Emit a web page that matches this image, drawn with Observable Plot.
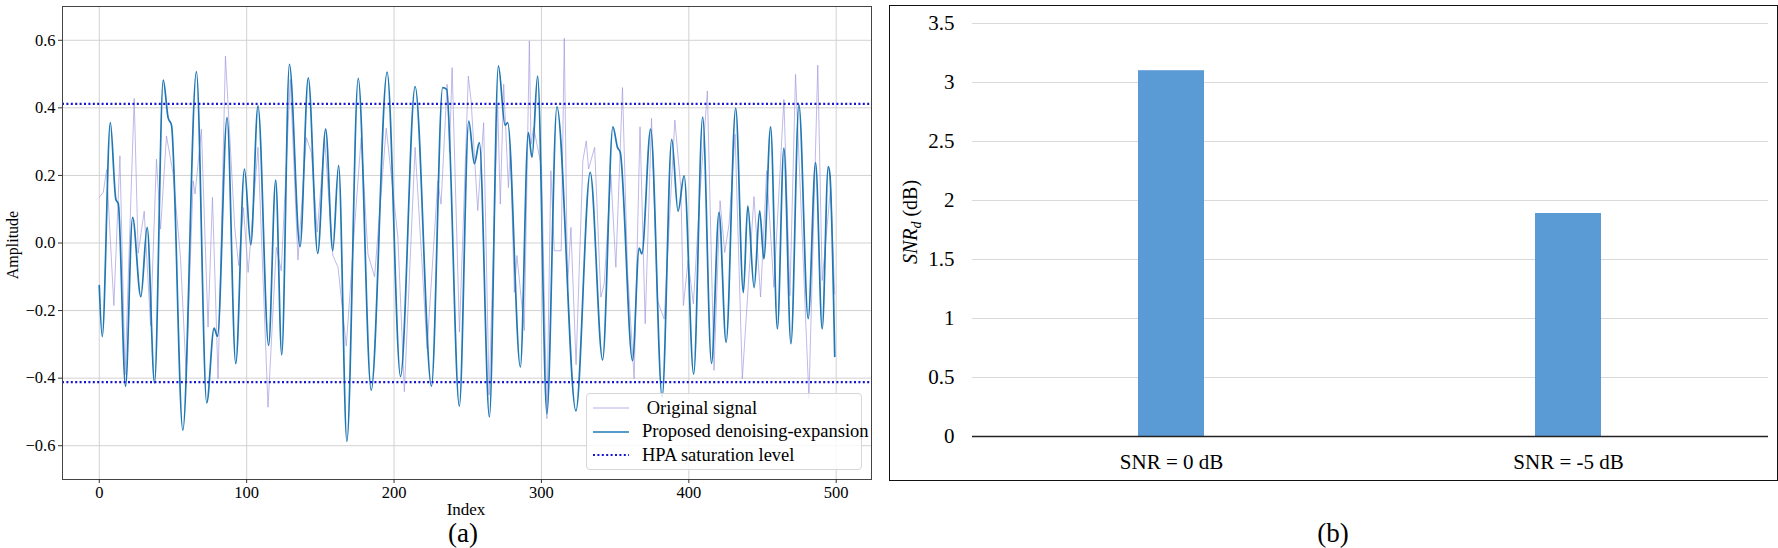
<!DOCTYPE html>
<html>
<head>
<meta charset="utf-8">
<script src="https://cdn.jsdelivr.net/npm/d3@7"></script>
<script src="https://cdn.jsdelivr.net/npm/@observablehq/plot@0.6"></script>
<style>
  html, body { margin: 0; padding: 0; background: #fff; }
  #page { position: relative; width: 1778px; height: 548px; overflow: hidden; background: #fff;
          font-family: "Liberation Serif", "Times New Roman", serif; color: #000; }
  #left { position: absolute; left: 0; top: 0; }
  #right { position: absolute; left: 890px; top: 6px; }
  #rightBorder { position: absolute; left: 889px; top: 5px; width: 889px; height: 476px;
                 box-sizing: border-box; border: 1.4px solid #111; pointer-events: none; }
  #legend { position: absolute; left: 586px; top: 393px; width: 276px; height: 77px; box-sizing: border-box;
            background: rgba(255,255,255,0.82); border: 1px solid #d6d6d6; border-radius: 4px;
            font-size: 18.5px; line-height: 1; }
  .row { position: absolute; left: 6px; height: 20px; display: flex; align-items: center; white-space: pre; }
  .row svg { width: 36px; height: 10px; margin-right: 13px; }
  .lbl { position: absolute; line-height: 1; white-space: nowrap; }
  .cap { font-size: 27px; transform: translate(-50%, -50%); }
  #xlabelA { left: 466px; top: 508.5px; font-size: 17px; transform: translate(-50%, -50%); }
  #ylabelA { left: 12.5px; top: 245px; font-size: 16px; transform: translate(-50%, -50%) rotate(-90deg); }
  #ytitle { left: 912px; top: 222px; font-size: 20px; transform: translate(-50%, -50%) rotate(-90deg); }
  #ytitle sub { font-size: 14px; vertical-align: -4px; }
</style>
</head>
<body>
<div id="page">
  <div id="left"></div>
  <div id="legend"></div>
  <div class="lbl" id="xlabelA">Index</div>
  <div class="lbl" id="ylabelA">Amplitude</div>
  <div class="lbl cap" style="left:463px; top:533px;">(a)</div>
  <div id="right"></div>
  <div id="rightBorder"></div>
  <div class="lbl" id="ytitle"><i>SNR<sub>d</sub></i> (dB)</div>
  <div class="lbl cap" style="left:1333px; top:533px;">(b)</div>
</div>
<script>
// ---------- Panel (a): time-domain signals ----------
const denoisedIndex = [
  0, 2, 7.5, 11.3, 12.9, 17.8, 22.6, 28.2, 32.5, 37.5,
  43.4, 46.7, 49, 56.7, 65.9, 72.9, 77.9, 80.2, 86.7, 92.6,
  98.5, 102.8, 107.7, 114.9, 119.7, 123.8, 129, 136.2, 141.8, 148.2,
  153.6, 158.4, 162.4, 168, 175.7, 184.5, 195.3, 204.4, 214.3, 225.4,
  233, 235.7, 244.3, 250.7, 254.5, 257.9, 264.7, 270.8, 275.3, 277.1,
  285.7, 291.1, 293.6, 297.4, 303.7, 310.5, 323.4, 333.1, 341.5, 348.5,
  351.6, 353.5, 361.8, 366.3, 368.1, 374.1, 381.9, 388.4, 392.7, 396.8,
  403.3, 409.4, 415.4, 420.5, 425.3, 431.8, 437, 440, 444.3, 448.1,
  450.9, 455.5, 460.1, 464.5, 469.3, 474.7, 481, 486, 490.5, 494.6,
  495.7, 499
];
const denoisedAmp = [
  -0.126, -0.277, 0.356, 0.128, 0.117, -0.424, 0.076, -0.159, 0.046, -0.414,
  0.482, 0.371, 0.349, -0.554, 0.507, -0.473, -0.252, -0.276, 0.371, -0.357,
  0.219, -0.005, 0.406, -0.303, 0.186, -0.331, 0.529, -0.011, 0.489, -0.031,
  0.337, -0.023, 0.230, -0.587, 0.487, -0.436, 0.506, -0.395, 0.463, -0.424,
  0.460, 0.455, -0.483, 0.361, 0.235, 0.297, -0.515, 0.524, 0.349, 0.356,
  -0.367, 0.327, 0.253, 0.494, -0.505, 0.403, -0.497, 0.209, -0.346, 0.344,
  0.283, 0.268, -0.348, -0.015, -0.032, 0.337, -0.456, 0.307, 0.094, 0.199,
  -0.388, 0.373, -0.356, 0.091, -0.294, 0.399, -0.147, 0.110, -0.132, 0.095,
  -0.047, 0.344, -0.254, 0.281, -0.298, 0.409, -0.224, 0.238, -0.254, 0.226,
  0.204, -0.336
];
const originalIndex = [
  0, 2.7, 5, 9.9, 14, 17.5, 23.7, 26.4, 30.5, 34.8,
  38.8, 41.6, 45.6, 50.1, 55.1, 59, 63.7, 65, 69.3, 73.8,
  76.8, 80.6, 85.6, 91.9, 94.6, 97.8, 101, 107.7, 114.5, 120.1,
  123.5, 129.6, 134.8, 140.5, 143.9, 147.9, 152.9, 158.5, 162, 167.6,
  173.2, 177.7, 182.3, 186.8, 194.7, 202.6, 207, 214.3, 222.4, 229.7,
  231.9, 236, 237.6, 239.4, 244.4, 250.4, 252.3, 256.8, 260.8, 264.5,
  270.3, 272.1, 274.4, 276, 277.6, 278.9, 281.6, 283.4, 288.4, 291.8,
  292.9, 294.7, 297.4, 300.1, 303.7, 306.4, 308.7, 313.4, 315.5, 317.7,
  320, 323.5, 328.1, 330.4, 332, 336.1, 340.3, 342.6, 347.1, 350.5,
  355, 358.4, 362.9, 366.9, 370.4, 374.7, 378.7, 383.3, 390.5, 394.6,
  396.3, 399.5, 403.1, 407.6, 412.6, 417.1, 421.2, 424.4, 427.3, 431.4,
  436.3, 444.2, 448.7, 452.8, 457.7, 464.5, 468.6, 472.4, 481.5, 487.5,
  490.5, 496.2, 499
];
const originalAmp = [
  0.135, 0.150, 0.217, -0.185, 0.258, -0.390, 0.428, -0.030, 0.094, -0.244,
  0.248, 0.041, 0.317, 0.204, -0.042, -0.392, 0.184, 0.145, 0.337, -0.249,
  0.135, -0.402, 0.553, 0.046, -0.067, 0.105, -0.087, 0.283, -0.486, -0.013,
  -0.082, 0.484, -0.050, 0.312, 0.268, 0.032, 0.307, -0.037, -0.072, -0.305,
  0.046, 0.312, -0.033, -0.100, 0.340, 0.017, -0.440, 0.283, -0.313, 0.184,
  0.115, 0.470, 0.268, 0.519, -0.264, 0.494, 0.420, 0.096, 0.356, -0.450,
  0.410, 0.115, 0.470, 0.317, 0.164, 0.283, -0.146, -0.037, -0.259, 0.598,
  0.292, 0.342, 0.283, 0.224, -0.520, 0.214, -0.023, -0.023, 0.606, -0.131,
  0.046, -0.360, 0.243, 0.302, 0.219, 0.283, -0.160, -0.121, 0.204, -0.072,
  0.460, -0.082, -0.402, 0.344, -0.239, 0.369, -0.170, -0.225, 0.364, 0.164,
  -0.185, -0.052, -0.180, 0.150, 0.450, -0.377, 0.125, -0.028, 0.056, 0.322,
  -0.402, 0.137, -0.160, 0.214, -0.131, 0.425, -0.156, 0.499, -0.460, 0.526,
  -0.111, 0.164, -0.151
];
const hpaLevels = [0.412, -0.412];
const xTicksA = [0, 100, 200, 300, 400, 500];
const yTicksA = [-0.6, -0.4, -0.2, 0, 0.2, 0.4, 0.6];
const legendLabels = [" Original signal", "Proposed denoising-expansion", "HPA saturation level"];

// ---------- Panel (b): SNR gain bars ----------
const categories = ["SNR = 0 dB", "SNR = -5 dB"];
const snrGain = [3.1, 1.89];
const yTicksB = [0, 0.5, 1, 1.5, 2, 2.5, 3, 3.5];

// Colours
const cOriginal = "#9f96dc";
const cDenoised = "#1f77b4";
const cHpa = "#1414d2";
const cBar = "#5b9bd5";

const denoised = denoisedIndex.map((x, i) => ({x, y: denoisedAmp[i]}));
const original = originalIndex.map((x, i) => ({x, y: originalAmp[i]}));
const fmtA = d => (d === 0 ? "0.0" : d.toFixed(1).replace("-", "\u2212"));

const left = Plot.plot({
  width: 880, height: 500,
  marginLeft: 62, marginRight: 9, marginTop: 6, marginBottom: 21,
  style: {fontFamily: "'Liberation Serif', 'Times New Roman', serif", fontSize: "16.5px", color: "#000", background: "transparent", overflow: "visible"},
  x: {domain: [-24.95, 523.95]},
  y: {domain: [-0.7, 0.7]},
  marks: [
    Plot.gridX(xTicksA, {stroke: "#d2d2d2", strokeOpacity: 1, strokeWidth: 1}),
    Plot.gridY(yTicksA, {stroke: "#d2d2d2", strokeOpacity: 1, strokeWidth: 1}),
    Plot.line(original, {x: "x", y: "y", stroke: cOriginal, strokeWidth: 0.9, strokeOpacity: 0.75}),
    Plot.line(denoised, {x: "x", y: "y", stroke: cDenoised, strokeWidth: 1.7, curve: "monotone-x"}),
    Plot.ruleY(hpaLevels, {stroke: cHpa, strokeWidth: 2.2, strokeDasharray: "2,2.4"}),
    Plot.frame({stroke: "#444", strokeWidth: 1}),
    Plot.axisX(xTicksA, {tickSize: 4, tickPadding: 3, tickFormat: d => String(d), stroke: "#333", label: null}),
    Plot.axisY(yTicksA, {tickSize: 4, tickPadding: 3, tickFormat: fmtA, stroke: "#333", label: null})
  ]
});
document.getElementById("left").appendChild(left);

// legend (inside panel a, lower right)
const legend = document.getElementById("legend");
const swatches = [
  `<svg viewBox="0 0 36 10"><line x1="0" y1="5" x2="36" y2="5" stroke="${cOriginal}" stroke-width="1" stroke-opacity="0.75"/></svg>`,
  `<svg viewBox="0 0 36 10"><line x1="0" y1="5" x2="36" y2="5" stroke="${cDenoised}" stroke-width="1.7"/></svg>`,
  `<svg viewBox="0 0 36 10"><line x1="0" y1="5" x2="36" y2="5" stroke="${cHpa}" stroke-width="2.2" stroke-dasharray="2,2.4"/></svg>`
];
legendLabels.forEach((t, i) => {
  const r = document.createElement("div");
  r.className = "row";
  r.style.top = (4 + i * 23.5) + "px";
  r.innerHTML = swatches[i] + `<span>${t}</span>`;
  legend.appendChild(r);
});

const barData = categories.map((c, i) => ({c, v: snrGain[i]}));
const right = Plot.plot({
  width: 887, height: 474,
  marginLeft: 82, marginRight: 9, marginTop: 17, marginBottom: 44,
  style: {fontFamily: "'Liberation Serif', 'Times New Roman', serif", fontSize: "21px", color: "#000", background: "transparent"},
  x: {domain: categories, paddingInner: 0.833, paddingOuter: 0.4167},
  y: {domain: [0, 3.5]},
  marks: [
    Plot.gridY(yTicksB, {stroke: "#d9d9d9", strokeOpacity: 1, strokeWidth: 1.2}),
    Plot.barY(barData, {x: "c", y: "v", fill: cBar}),
    Plot.ruleY([0], {stroke: "#222", strokeWidth: 1.3}),
    Plot.axisY(yTicksB, {tickSize: 0, tickPadding: 18, tickFormat: d => String(d), label: null}),
    Plot.axisX({tickSize: 0, tickPadding: 18, label: null})
  ]
});
document.getElementById("right").appendChild(right);
</script>
</body>
</html>
